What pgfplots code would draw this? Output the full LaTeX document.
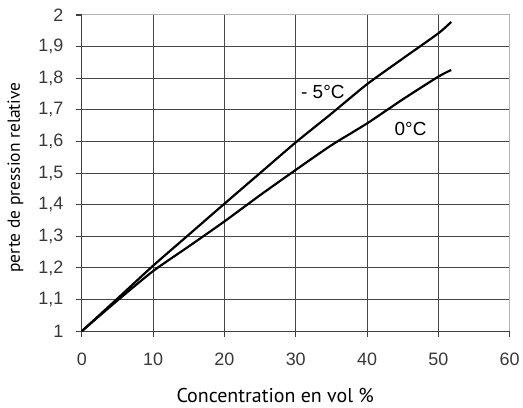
\documentclass[border=0pt]{standalone}
\usepackage{pgfplots}
\pgfplotsset{compat=1.18}
\usetikzlibrary{calc}
\usepackage{fontspec}
\setmainfont{Liberation Sans}
\newfontfamily\labfont{PT Sans}
\begin{document}
\begin{tikzpicture}
\begin{axis}[
  name=ax,
  scale only axis,
  width=429pt, height=317pt,
  xmin=0, xmax=60, ymin=1, ymax=2,
  axis x line*=bottom, axis y line*=left,
  axis line style={draw=black!75, line width=1.1pt},
  xtick={0,10,20,30,40,50,60},
  ytick={1,1.1,1.2,1.3,1.4,1.5,1.6,1.7,1.8,1.9,2},
  minor xtick={10,20,30,40,50},
  minor ytick={1.1,1.2,1.3,1.4,1.5,1.6,1.7,1.8,1.9},
  minor tick length=0pt,
  grid=minor,
  minor grid style={draw=black!72, line width=1.1pt},
  tick align=outside,
  major tick length=6pt,
  major tick style={draw=black!75, line width=1.1pt},
  /pgf/number format/assume math mode=true,
  /pgf/number format/use comma,
  xticklabel style={font=\fontsize{18}{21}\selectfont\color{black!78}, yshift=-12pt},
  yticklabel style={font=\fontsize{18}{21}\selectfont\color{black!78}, xshift=-9pt},
  yticklabel={\pgfmathprintnumber[fixed,precision=1,use comma]{\tick}},
  xlabel={\labfont Concentration en vol \%},
  ylabel={\labfont perte de pression relative},
  xlabel style={font=\fontsize{20}{24}\selectfont, inner sep=0pt, at={(axis description cs:0.452,-0.205)}, anchor=center},
  ylabel style={font=\fontsize{17.5}{20}\selectfont, inner sep=0pt, at={(axis description cs:-0.155,0.486)}, anchor=center},
  clip=false,
]
\draw[black!30, line width=1pt] (rel axis cs:0,1) -- (rel axis cs:1,1) -- (rel axis cs:1,0);
\addplot[black, line width=2.2pt, smooth, tension=0.4] coordinates {
(0,1) (5,1.103) (10,1.207) (15,1.305) (20,1.403) (25,1.50) (30,1.597) (35,1.688) (40,1.781) (45,1.862) (50,1.942) (51.8,1.978)};
\addplot[black, line width=2.2pt, smooth, tension=0.4] coordinates {
(0,1) (5,1.097) (10,1.19) (15,1.268) (20,1.347) (25,1.43) (30,1.51) (35,1.588) (40,1.657) (45,1.733) (50,1.805) (51.8,1.826)};
\node[font=\fontsize{19}{22}\selectfont] at (axis cs:33.8,1.757) {- 5°C};
\node[font=\fontsize{19}{22}\selectfont] at (axis cs:46.1,1.639) {0°C};
\end{axis}
\useasboundingbox ($(ax.south west)+(-82pt,-77pt)$) rectangle ($(ax.north east)+(12pt,15pt)$);
\end{tikzpicture}
\end{document}
